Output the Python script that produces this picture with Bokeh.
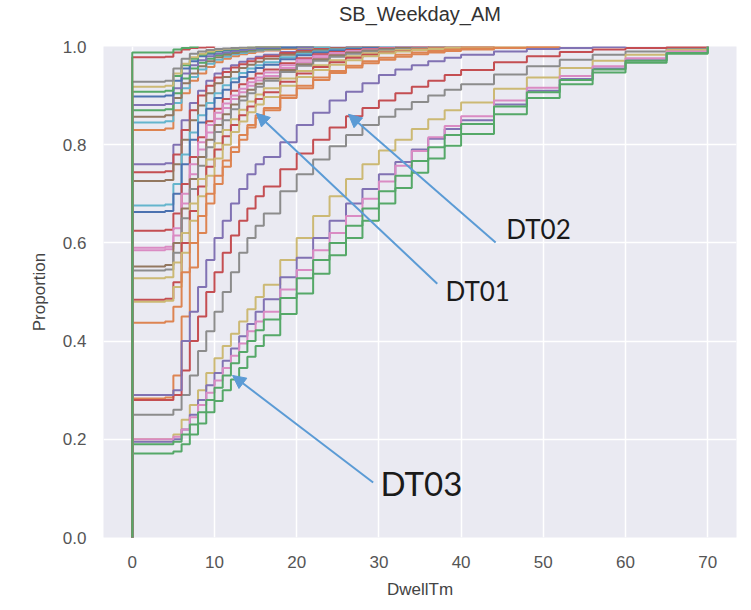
from bokeh.plotting import figure
from bokeh.models import Range1d, FixedTicker, NumeralTickFormatter, Arrow, NormalHead, Label, Title
from bokeh.embed import file_html
from bokeh.resources import INLINE

TITLE = "SB_Weekday_AM"
X_LABEL = "DwellTm"
Y_LABEL = "Proportion"
X_TICKS = [0, 10, 20, 30, 40, 50, 60, 70]
Y_TICKS = [0.0, 0.2, 0.4, 0.6, 0.8, 1.0]

# Dwell times at which each cumulative proportion is read
DWELL = [0, 4, 5, 6, 7, 8, 9, 10, 11, 12, 13, 14, 15, 16, 18, 20, 22, 24, 26, 28, 30,
         32, 34, 36, 38, 40, 44, 48, 52, 56, 60, 65, 70]

# Cumulative proportions (one list per series, read at DWELL until it reaches 1.0)
A01 = [0.988, 0.988, 0.994, 0.997, 0.999, 1.0]
A02 = [0.978, 0.979, 0.988, 0.994, 0.997, 0.998, 0.999, 1.0]
A03 = [0.928, 0.93, 0.955, 0.975, 0.985, 0.99, 0.993, 0.995, 0.996, 0.997, 0.998, 0.998, 0.999, 0.999, 1.0]
A04 = [0.918, 0.92, 0.945, 0.965, 0.978, 0.985, 0.99, 0.993, 0.995, 0.996, 0.997, 0.998, 0.999, 0.999, 1.0]
A05 = [0.908, 0.91, 0.94, 0.962, 0.975, 0.983, 0.988, 0.992, 0.994, 0.995, 0.997, 0.998, 0.999, 0.999, 1.0]
A06 = [0.898, 0.9, 0.93, 0.955, 0.97, 0.98, 0.985, 0.99, 0.992, 0.994, 0.996, 0.997, 0.998, 0.998, 0.999, 1.0]
A07 = [0.881, 0.883, 0.915, 0.945, 0.962, 0.972, 0.98, 0.985, 0.988, 0.991, 0.993, 0.995, 0.996, 0.997, 0.998, 0.999, 1.0]
A08 = [0.87, 0.872, 0.905, 0.935, 0.955, 0.967, 0.975, 0.982, 0.986, 0.99, 0.992, 0.994, 0.995, 0.996, 0.998, 0.999, 1.0]
A09 = [0.857, 0.86, 0.895, 0.925, 0.945, 0.96, 0.97, 0.978, 0.983, 0.987, 0.99, 0.992, 0.994, 0.995, 0.997, 0.999, 1.0]
A10 = [0.845, 0.848, 0.885, 0.915, 0.938, 0.953, 0.965, 0.973, 0.979, 0.984, 0.987, 0.99, 0.992, 0.994, 0.997, 0.998, 0.999, 1.0]
A11 = [0.83, 0.833, 0.87, 0.905, 0.93, 0.945, 0.958, 0.968, 0.975, 0.98, 0.984, 0.987, 0.99, 0.992, 0.995, 0.997, 0.999, 1.0]

B01 = [0.76, 0.762, 0.8, 0.85, 0.885, 0.91, 0.93, 0.945, 0.955, 0.962, 0.969, 0.975, 0.979, 0.983, 0.989, 0.993, 0.996, 0.998, 0.999, 1.0]
B02 = [0.744, 0.746, 0.78, 0.83, 0.87, 0.9, 0.92, 0.937, 0.948, 0.957, 0.964, 0.97, 0.976, 0.98, 0.987, 0.991, 0.995, 0.997, 0.998, 0.999, 1.0]
B03 = [0.726, 0.728, 0.76, 0.81, 0.85, 0.88, 0.905, 0.925, 0.938, 0.948, 0.956, 0.963, 0.969, 0.975, 0.983, 0.989, 0.993, 0.996, 0.998, 0.999, 1.0]
B04 = [0.676, 0.678, 0.72, 0.78, 0.825, 0.86, 0.885, 0.905, 0.921, 0.935, 0.946, 0.955, 0.962, 0.968, 0.978, 0.985, 0.99, 0.994, 0.996, 0.998, 0.999, 1.0]
B05 = [0.663, 0.665, 0.7, 0.76, 0.81, 0.845, 0.873, 0.895, 0.912, 0.927, 0.938, 0.948, 0.956, 0.963, 0.974, 0.982, 0.988, 0.992, 0.995, 0.997, 0.998, 0.999, 1.0]
B06 = [0.625, 0.627, 0.66, 0.72, 0.775, 0.815, 0.848, 0.873, 0.893, 0.91, 0.923, 0.935, 0.945, 0.953, 0.966, 0.976, 0.984, 0.989, 0.993, 0.995, 0.997, 0.998, 0.999, 1.0]
B07 = [0.59, 0.592, 0.63, 0.7, 0.76, 0.805, 0.84, 0.865, 0.884, 0.9, 0.914, 0.927, 0.937, 0.947, 0.962, 0.973, 0.981, 0.987, 0.991, 0.994, 0.996, 0.998, 0.999, 1.0]
B08 = [0.585, 0.587, 0.615, 0.68, 0.74, 0.79, 0.825, 0.853, 0.875, 0.893, 0.907, 0.92, 0.931, 0.94, 0.956, 0.968, 0.977, 0.984, 0.989, 0.993, 0.995, 0.997, 0.998, 0.999, 1.0]
B09 = [0.552, 0.555, 0.6, 0.67, 0.73, 0.775, 0.81, 0.84, 0.862, 0.882, 0.898, 0.912, 0.924, 0.935, 0.952, 0.964, 0.974, 0.982, 0.988, 0.992, 0.995, 0.997, 0.998, 0.999, 1.0]
B10 = [0.544, 0.546, 0.58, 0.65, 0.71, 0.757, 0.795, 0.826, 0.85, 0.872, 0.89, 0.905, 0.918, 0.93, 0.948, 0.961, 0.971, 0.979, 0.985, 0.99, 0.993, 0.995, 0.997, 0.998, 0.999, 1.0]
B11 = [0.528, 0.53, 0.56, 0.62, 0.68, 0.73, 0.77, 0.803, 0.83, 0.852, 0.871, 0.888, 0.902, 0.915, 0.935, 0.95, 0.962, 0.972, 0.98, 0.986, 0.99, 0.993, 0.995, 0.997, 0.998, 0.999, 1.0]
B12 = [0.484, 0.486, 0.52, 0.6, 0.665, 0.715, 0.755, 0.79, 0.817, 0.84, 0.86, 0.878, 0.893, 0.907, 0.928, 0.945, 0.958, 0.968, 0.977, 0.983, 0.988, 0.991, 0.994, 0.996, 0.998, 0.999, 1.0]
B13 = [0.48, 0.482, 0.51, 0.58, 0.645, 0.695, 0.737, 0.772, 0.8, 0.826, 0.847, 0.866, 0.882, 0.897, 0.92, 0.938, 0.952, 0.963, 0.972, 0.98, 0.986, 0.99, 0.993, 0.995, 0.997, 0.998, 0.999, 1.0]
B14 = [0.4375, 0.44, 0.47, 0.54, 0.6, 0.655, 0.7, 0.737, 0.768, 0.795, 0.82, 0.84, 0.86, 0.875, 0.9, 0.92, 0.937, 0.95, 0.961, 0.97, 0.977, 0.983, 0.988, 0.991, 0.994, 0.996, 0.998, 0.999, 1.0]

C01 = [0.29, 0.29, 0.30, 0.40, 0.46, 0.51, 0.565, 0.61, 0.645, 0.68, 0.71, 0.74, 0.76, 0.775, 0.805, 0.84, 0.865, 0.89, 0.908, 0.925, 0.942, 0.953, 0.962, 0.97, 0.977, 0.983, 0.99, 0.995, 0.997, 0.999, 1.0]
C02 = [0.28, 0.28, 0.29, 0.34, 0.40, 0.45, 0.50, 0.54, 0.58, 0.615, 0.645, 0.67, 0.695, 0.715, 0.75, 0.782, 0.81, 0.835, 0.858, 0.875, 0.89, 0.905, 0.918, 0.93, 0.942, 0.952, 0.968, 0.98, 0.989, 0.994, 0.997, 0.999, 1.0]
C03 = [0.283, 0.285, 0.33, 0.45, 0.55, 0.62, 0.68, 0.72, 0.755, 0.785, 0.81, 0.835, 0.855, 0.87, 0.895, 0.915, 0.932, 0.946, 0.957, 0.966, 0.973, 0.979, 0.984, 0.988, 0.991, 0.994, 0.997, 0.999, 1.0]
C04 = [0.25, 0.25, 0.26, 0.29, 0.33, 0.38, 0.42, 0.46, 0.50, 0.54, 0.58, 0.61, 0.635, 0.66, 0.705, 0.74, 0.77, 0.797, 0.82, 0.84, 0.857, 0.872, 0.887, 0.9, 0.912, 0.923, 0.943, 0.96, 0.973, 0.983, 0.99, 0.996, 1.0]

D01 = [0.2, 0.2, 0.21, 0.24, 0.27, 0.30, 0.335, 0.365, 0.39, 0.415, 0.44, 0.465, 0.49, 0.515, 0.565, 0.61, 0.655, 0.695, 0.73, 0.76, 0.788, 0.81, 0.832, 0.852, 0.87, 0.886, 0.914, 0.937, 0.956, 0.971, 0.983, 0.993, 1.0]
D02 = [0.195, 0.195, 0.2, 0.22, 0.25, 0.28, 0.31, 0.335, 0.36, 0.385, 0.41, 0.435, 0.46, 0.485, 0.53, 0.57, 0.61, 0.645, 0.68, 0.71, 0.74, 0.765, 0.79, 0.812, 0.832, 0.85, 0.882, 0.91, 0.934, 0.955, 0.972, 0.988, 1.0]
D03 = [0.2, 0.2, 0.205, 0.22, 0.245, 0.27, 0.295, 0.32, 0.345, 0.37, 0.395, 0.42, 0.44, 0.46, 0.505, 0.545, 0.585, 0.62, 0.655, 0.69, 0.725, 0.757, 0.787, 0.815, 0.838, 0.858, 0.89, 0.916, 0.94, 0.96, 0.976, 0.99, 1.0]
D04 = [0.19, 0.19, 0.195, 0.21, 0.23, 0.255, 0.28, 0.305, 0.33, 0.355, 0.378, 0.4, 0.422, 0.444, 0.488, 0.528, 0.565, 0.6, 0.635, 0.67, 0.705, 0.737, 0.767, 0.795, 0.82, 0.842, 0.878, 0.907, 0.932, 0.953, 0.971, 0.987, 1.0]
D05 = [0.171, 0.171, 0.175, 0.19, 0.21, 0.232, 0.255, 0.278, 0.30, 0.322, 0.345, 0.368, 0.39, 0.412, 0.455, 0.497, 0.537, 0.575, 0.61, 0.645, 0.68, 0.712, 0.743, 0.772, 0.798, 0.822, 0.862, 0.895, 0.923, 0.947, 0.967, 0.985, 1.0]

# drawing order (last drawn on top)
SERIES = [B01, B02, B03, B04, B05, B06, B07, B08, B09, B10, B11, B12, B13, B14,
          C03, C04, C02, C01,
          D01, D02, D03, D04, D05,
          A11, A10, A09, A08, A07, A06, A05, A04, A03, A02, A01]

DEEP = {"blue": "#4C72B0", "orange": "#DD8452", "green": "#55A868", "red": "#C44E52",
        "purple": "#8172B3", "brown": "#937860", "pink": "#DA8BC3", "gray": "#8C8C8C",
        "olive": "#CCB974", "cyan": "#64B5CD"}
SERIES_COLORS = ["purple", "red", "brown", "cyan", "blue", "red", "pink", "pink", "brown", "gray",
                 "olive", "red", "olive", "orange",
                 "orange", "gray", "red", "purple",
                 "olive", "purple", "pink", "green", "green",
                 "orange", "cyan", "brown", "green", "purple", "blue", "green", "olive", "gray", "red", "green"]

ANN_TEXT = ["DT01", "DT02", "DT03"]
ANN_TIP_X = [15.1, 26.3, 12.2]
ANN_TIP_Y = [0.864, 0.862, 0.33]
ANN_TAIL_X = [37.1, 44.2, 29.3]
ANN_TAIL_Y = [0.517, 0.601, 0.112]
ANN_LABEL_X = [38.1, 45.5, 30.2]
ANN_LABEL_Y = [0.503, 0.629, 0.11]
ANN_SIZE = ["26px", "26px", "33px"]

p = figure(width=751, height=610, output_backend="svg", toolbar_location=None,
           x_range=Range1d(-3.5, 73.5), y_range=Range1d(0, 1),
           min_border_left=103, min_border_right=15, min_border_top=46, min_border_bottom=73)

p.background_fill_color = "#EAEAF2"
p.border_fill_color = "white"
p.outline_line_color = None

p.title.text = TITLE
p.title.align = "center"
p.title.text_font = "Liberation Sans"
p.title.text_font_size = "20px"
p.title.text_font_style = "normal"
p.title.text_color = "#333333"
p.title.standoff = 0

# invisible spacer panel between the title and the plot frame
p.add_layout(Title(text=" ", text_font_size="2px", standoff=18), "above")

for ax in (p.xaxis[0], p.yaxis[0]):
    ax.axis_line_color = None
    ax.major_tick_line_color = None
    ax.minor_tick_line_color = None
    ax.major_tick_out = 0
    ax.major_tick_in = 0
    ax.major_label_text_font = "Liberation Sans"
    ax.major_label_text_font_size = "17px"
    ax.major_label_text_color = "#555555"
    ax.axis_label_text_font = "Liberation Sans"
    ax.axis_label_text_font_size = "17px"
    ax.axis_label_text_font_style = "normal"
    ax.axis_label_text_color = "#444444"

p.xaxis.ticker = FixedTicker(ticks=X_TICKS)
p.yaxis.ticker = FixedTicker(ticks=Y_TICKS)
p.yaxis.formatter = NumeralTickFormatter(format="0.0")
p.xaxis.axis_label = X_LABEL
p.yaxis.axis_label = Y_LABEL
p.xaxis.major_label_standoff = 18
p.yaxis.major_label_standoff = 17
p.xaxis.axis_label_standoff = 9
p.yaxis.axis_label_standoff = 11

p.xgrid.grid_line_color = "white"
p.ygrid.grid_line_color = "white"
p.xgrid.grid_line_width = 1.5
p.ygrid.grid_line_width = 1.5

for row, cname in zip(SERIES, SERIES_COLORS):
    assert len(row) <= len(DWELL)
    xs = [DWELL[0]] + DWELL[:len(row)]
    ys = [0.0] + row
    p.step(xs, ys, mode="after", line_color=DEEP[cname], line_width=2)

ARROW_COLOR = "#5B9BD5"
for i in range(len(ANN_TEXT)):
    p.add_layout(Arrow(end=NormalHead(size=13, fill_color=ARROW_COLOR, line_color=ARROW_COLOR),
                       x_start=ANN_TAIL_X[i], y_start=ANN_TAIL_Y[i],
                       x_end=ANN_TIP_X[i], y_end=ANN_TIP_Y[i],
                       line_color=ARROW_COLOR, line_width=2))
    p.add_layout(Label(x=ANN_LABEL_X[i], y=ANN_LABEL_Y[i], text=ANN_TEXT[i],
                       text_font="Lato", text_font_size=ANN_SIZE[i],
                       text_baseline="middle", text_align="left", text_color="#1A1A1A"))

open("out.html", "w").write(file_html(p, INLINE))
